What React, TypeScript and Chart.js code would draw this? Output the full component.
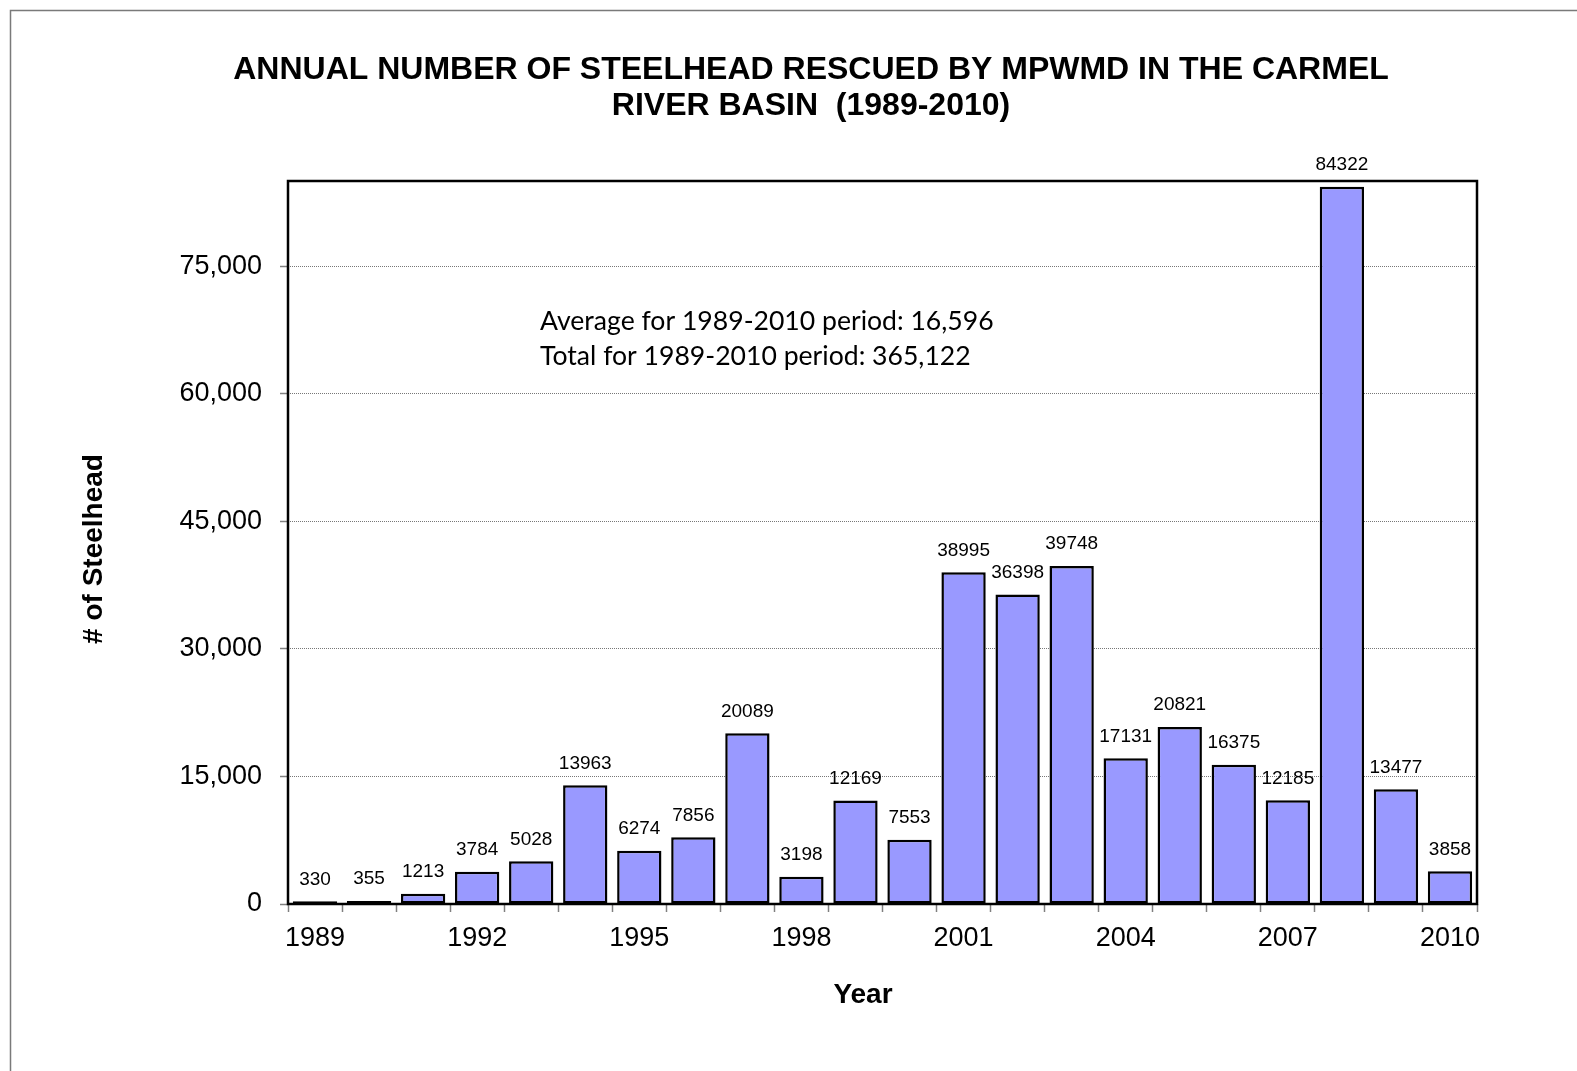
import React, { useEffect, useRef } from 'react';
import { Chart, registerables } from 'chart.js';

Chart.register(...registerables);

const years = ['1989', '1990', '1991', '1992', '1993', '1994', '1995', '1996', '1997', '1998', '1999', '2000', '2001', '2002', '2003', '2004', '2005', '2006', '2007', '2008', '2009', '2010'];
const rescued = [330, 355, 1213, 3784, 5028, 13963, 6274, 7856, 20089, 3198, 12169, 7553, 38995, 36398, 39748, 17131, 20821, 16375, 12185, 84322, 13477, 3858];
const yTicks = [0, 15000, 30000, 45000, 60000, 75000];
const yMax = 85000;
const titleLines = ['ANNUAL NUMBER OF STEELHEAD RESCUED BY MPWMD IN THE CARMEL', 'RIVER BASIN  (1989-2010)'];
const noteLines = ['Average for 1989-2010 period: 16,596', 'Total for 1989-2010 period: 365,122'];
const xTitle = 'Year';
const yTitle = '# of Steelhead';

const FONT = "'Liberation Sans', Arial, sans-serif";

const W = 1577;
const H = 1071;

export default function App() {
  const ref = useRef<HTMLCanvasElement | null>(null);

  useEffect(() => {
    const canvas = ref.current;
    if (!canvas) return;

    const decorPlugin = {
      id: 'decor',
      beforeDraw(chart: any) {
        const ctx = chart.ctx;
        ctx.save();
        ctx.fillStyle = '#ffffff';
        ctx.fillRect(0, 0, chart.width, chart.height);
        ctx.strokeStyle = '#7a7a7a';
        ctx.lineWidth = 1.5;
        ctx.beginPath();
        ctx.moveTo(10.5, chart.height);
        ctx.lineTo(10.5, 10.5);
        ctx.lineTo(chart.width, 10.5);
        ctx.stroke();
        ctx.restore();
      },
      afterDatasetsDraw(chart: any) {
        const ctx = chart.ctx;
        const a = chart.chartArea;
        ctx.save();
        ctx.strokeStyle = '#000';
        ctx.lineWidth = 2.5;
        ctx.strokeRect(a.left, a.top, a.right - a.left, a.bottom - a.top);
        // data labels
        const meta = chart.getDatasetMeta(0);
        ctx.fillStyle = '#000';
        ctx.font = `19px ${FONT}`;
        ctx.textAlign = 'center';
        ctx.textBaseline = 'alphabetic';
        meta.data.forEach((bar: any, i: number) => {
          ctx.fillText(String(rescued[i]), bar.x, bar.y - 16.5);
        });
        ctx.restore();
      },
      afterDraw(chart: any) {
        const ctx = chart.ctx;
        ctx.save();
        ctx.fillStyle = '#000';
        // main title
        ctx.font = `bold 32px ${FONT}`;
        ctx.textAlign = 'center';
        ctx.textBaseline = 'alphabetic';
        ctx.fillText(titleLines[0], 811, 79);
        ctx.fillText(titleLines[1], 811, 115);
        // notes
        ctx.font = `26.6px Lato, 'Open Sans', sans-serif`;
        ctx.textAlign = 'left';
        ctx.fillText(noteLines[0], 540, 330);
        ctx.fillText(noteLines[1], 540, 365);
        // x title
        ctx.font = `bold 28px ${FONT}`;
        ctx.textAlign = 'center';
        ctx.fillText(xTitle, 863, 1003);
        // y title
        ctx.translate(102, 549);
        ctx.rotate(-Math.PI / 2);
        ctx.fillText(yTitle, 0, 0);
        ctx.restore();
      },
    };

    const chart = new Chart(canvas, {
      type: 'bar',
      data: {
        labels: years,
        datasets: [
          {
            data: rescued,
            backgroundColor: '#9999FF',
            borderColor: '#000000',
            borderWidth: 2.5,
            borderSkipped: false,
            barPercentage: 0.82,
            categoryPercentage: 1,
          },
        ],
      },
      options: {
        responsive: false,
        animation: false,
        devicePixelRatio: 1,
        layout: { padding: { left: 138, top: 181, right: 100, bottom: 67 } },
        plugins: {
          legend: { display: false },
          title: { display: false },
          tooltip: { enabled: false },
        },
        scales: {
          x: {
            offset: true,
            grid: {
              offset: true,
              drawOnChartArea: false,
              drawTicks: true,
              tickLength: 8,
              tickColor: '#808080',
              tickWidth: 1.5,
            },
            border: { display: false },
            ticks: {
              autoSkip: false,
              maxRotation: 0,
              minRotation: 0,
              padding: 10,
              color: '#000',
              font: { family: FONT, size: 27 },
              callback: (_v: any, i: number) => (i % 3 === 0 ? years[i] : ''),
            },
            afterFit: (s: any) => {
              s.height = 100;
            },
          },
          y: {
            min: 0,
            max: yMax,
            grid: {
              color: '#777',
              lineWidth: 1,
              tickLength: 8,
              tickColor: '#808080',
              tickWidth: 1.5,
            },
            border: { display: false, dash: [1, 1] },
            ticks: {
              padding: 18,
              color: '#000',
              font: { family: FONT, size: 27 },
              callback: (v: any) => Number(v).toLocaleString('en-US'),
            },
            afterBuildTicks: (s: any) => {
              s.ticks = yTicks.map((v) => ({ value: v }));
            },
            afterFit: (s: any) => {
              s.width = 150;
            },
          },
        },
      },
      plugins: [decorPlugin],
    });

    return () => chart.destroy();
  }, []);

  return (
    <div style={{ position: 'fixed', left: 0, top: 0, width: W, height: H, background: '#fff' }}>
      <canvas ref={ref} width={W} height={H} style={{ width: W, height: H, display: 'block' }} />
    </div>
  );
}
